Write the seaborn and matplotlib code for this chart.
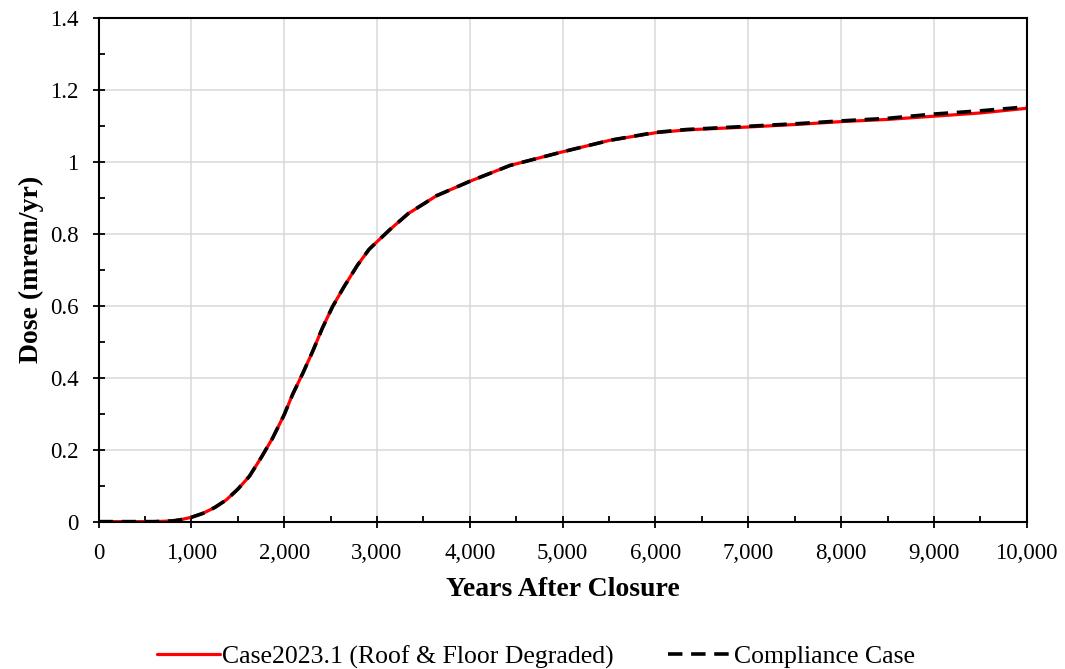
import numpy as np
import pandas as pd
import seaborn as sns
import matplotlib
matplotlib.use('Agg')
import matplotlib.pyplot as plt
from matplotlib.ticker import MultipleLocator, FuncFormatter

years = [0, 300, 600, 800, 880, 1000, 1125, 1250, 1375, 1500, 1625, 1750,
         1875, 2000, 2090, 2200, 2305, 2410, 2520, 2645, 2790, 2915, 3000,
         3140, 3335, 3642, 4000, 4432, 5000, 5509, 6000, 6335, 7000, 7580,
         8000, 8500, 9000, 9500, 10000]
case_2023 = [0, 0, 0, 0.002, 0.005, 0.012, 0.023, 0.039, 0.06, 0.09, 0.126,
             0.177, 0.232, 0.297, 0.353, 0.412, 0.472, 0.537, 0.597, 0.653,
             0.713, 0.757, 0.778, 0.812, 0.856, 0.906, 0.946, 0.99, 1.028,
             1.06, 1.081, 1.089, 1.097, 1.105, 1.112, 1.118, 1.127, 1.136,
             1.149]
compliance = [0, 0, 0, 0.002, 0.005, 0.012, 0.023, 0.039, 0.06, 0.09, 0.126,
              0.177, 0.232, 0.297, 0.353, 0.412, 0.472, 0.537, 0.597, 0.653,
              0.713, 0.757, 0.778, 0.812, 0.856, 0.906, 0.946, 0.99, 1.028,
              1.06, 1.082, 1.09, 1.099, 1.107, 1.114, 1.121, 1.133, 1.142,
              1.153]
labels = ['Case2023.1 (Roof & Floor Degraded)', 'Compliance Case']

sns.set_theme(style='ticks')
plt.rcParams['font.family'] = ['Liberation Serif', 'DejaVu Serif']
plt.rcParams['text.color'] = 'black'
plt.rcParams['axes.labelcolor'] = 'black'

fig = plt.figure(figsize=(10.65, 6.69), dpi=100)
ax = fig.add_axes([0.0925, 0.2203, 0.8716, 0.7528])

df = pd.DataFrame({'year': years, 'a': case_2023, 'b': compliance})
sns.lineplot(data=df, x='year', y='a', ax=ax, color='#ff0000',
             linewidth=2.3, label=labels[0])
sns.lineplot(data=df, x='year', y='b', ax=ax, color='black',
             linewidth=2.6, label=labels[1])
ax.lines[1].set_dashes((4, 2.4))

ax.set_xlim(0, 10000)
ax.set_ylim(0, 1.4)
ax.xaxis.set_major_locator(MultipleLocator(1000))
ax.xaxis.set_minor_locator(MultipleLocator(500))
ax.yaxis.set_major_locator(MultipleLocator(0.2))
ax.yaxis.set_minor_locator(MultipleLocator(0.1))
ax.xaxis.set_major_formatter(FuncFormatter(lambda v, p: f'{v:,.0f}'))
ax.yaxis.set_major_formatter(FuncFormatter(lambda v, p: f'{v:g}'))

ax.grid(True, which='major', color='#d9d9d9', linewidth=1.1)
ax.set_axisbelow(True)
for s in ax.spines.values():
    s.set_color('black')
    s.set_linewidth(1.5)

ax.tick_params(which='major', direction='inout', length=9, width=1.3,
               labelsize=16.5, colors='black', labelcolor='black')
ax.tick_params(axis='x', which='major', pad=11)
ax.tick_params(axis='y', which='major', pad=10)
ax.tick_params(which='minor', direction='in', length=4, width=1.3,
               colors='black')
ax.tick_params(axis='x', which='both', top=False)
ax.tick_params(axis='y', which='both', right=False)

ax.set_xlabel('Years After Closure', fontsize=20, fontweight='bold',
              labelpad=9, color='black')
ax.set_ylabel('Dose (mrem/yr)', fontsize=20, fontweight='bold', labelpad=4,
              color='black')

handles, lbls = ax.get_legend_handles_labels()
ax.get_legend().remove()
fig.legend(handles, lbls, loc='center', bbox_to_anchor=(0.503, 0.018),
           ncol=2, frameon=False, fontsize=18.5, handlelength=2.45,
           handletextpad=0.1, columnspacing=2.1, labelcolor='black')

fig.savefig('out.png', dpi=100)
